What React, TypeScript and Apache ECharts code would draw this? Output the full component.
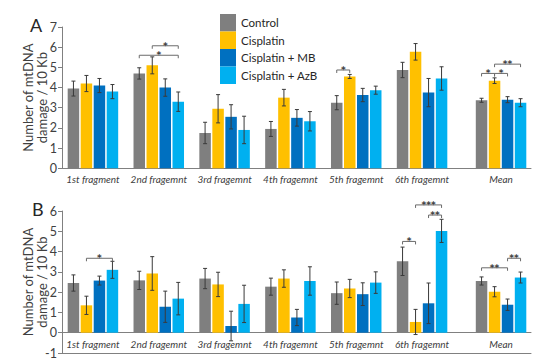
import React, { useEffect, useRef } from "react";
import * as echarts from "echarts";

const categoriesA = ["1st fragment", "2nd fragemnt", "3rd fragemnt", "4th fragemnt", "5th fragemnt", "6th fragemnt", "Mean"];
const categoriesB = ["1st fragment", "2nd fragemnt", "3rd fragemnt", "4th fragemnt", "5th fragemnt", "6th fragemnt", "Mean"];
const groupX = [0, 1, 2, 3, 4, 5, 6.2];
const seriesNames = ["Control", "Cisplatin", "Cisplatin + MB", "Cisplatin + AzB"];
const yTicksA = [0, 1, 2, 3, 4, 5, 6, 7];
const yTicksB = [-1, 0, 1, 2, 3, 4, 5, 6];

// Panel A values and error bars
const controlA = [3.95, 4.7, 1.75, 1.95, 3.25, 4.87, 3.37];
const cisplatinA = [4.2, 5.1, 2.95, 3.5, 4.55, 5.77, 4.34];
const mbA = [4.1, 4.0, 2.55, 2.5, 3.63, 3.75, 3.4];
const azbA = [3.8, 3.3, 1.9, 2.33, 3.87, 4.45, 3.25];
const controlErrA = [0.37, 0.28, 0.53, 0.37, 0.35, 0.38, 0.1];
const cisplatinErrA = [0.4, 0.42, 0.7, 0.41, 0.1, 0.41, 0.14];
const mbErrA = [0.35, 0.43, 0.6, 0.41, 0.33, 0.7, 0.15];
const azbErrA = [0.35, 0.48, 0.68, 0.48, 0.2, 0.58, 0.2];

// Panel B values and error bars
const controlB = [2.45, 2.58, 2.67, 2.27, 1.95, 3.52, 2.55];
const cisplatinB = [1.35, 2.92, 2.38, 2.67, 2.18, 0.53, 2.02];
const mbB = [2.57, 1.28, 0.33, 0.75, 1.9, 1.45, 1.38];
const azbB = [3.1, 1.68, 1.42, 2.55, 2.47, 5.02, 2.72];
const controlErrB = [0.4, 0.45, 0.5, 0.42, 0.55, 0.7, 0.2];
const cisplatinErrB = [0.45, 0.83, 0.6, 0.43, 0.45, 0.62, 0.25];
const mbErrB = [0.22, 0.77, 0.73, 0.4, 0.56, 1.0, 0.28];
const azbErrB = [0.42, 0.8, 0.92, 0.7, 0.53, 0.57, 0.27];

// Significance brackets: [category index, from bar, to bar, height]
const sigA = [[1, 0, 3, 5.6], [1, 1, 3, 6.07], [4, 0, 1, 4.87], [6, 0, 1, 4.7], [6, 1, 2, 4.7], [6, 1, 3, 5.16]];
const sigLabelsA = ["*", "*", "*", "*", "*", "**"];
const sigB = [[0, 1, 3, 3.67], [5, 0, 1, 4.5], [5, 2, 3, 5.8], [5, 1, 3, 6.3], [6, 0, 2, 3.2], [6, 2, 3, 3.67]];
const sigLabelsB = ["*", "*", "**", "***", "**", "**"];

const colors = ["#7F7F7F", "#FFC000", "#0070C0", "#00B0F0"];
const FONT = "Lato";
const BAR_STEP = 13;
const BAR_W = 11.5;
const CAP = 2;
const ERR_COLOR = "#3a3a3a";
const GRID_B_HEIGHT = 142;

function barSeries(name: string, k: number, vals: number[], errs: number[], axis: number) {
  return {
    type: "custom",
    name,
    xAxisIndex: axis === 0 ? 0 : 1,
    yAxisIndex: axis,
    itemStyle: { color: colors[k] },
    clip: false,
    encode: { x: 0, y: 1 },
    data: vals.map((v, i) => [groupX[i], v, errs[i]]),
    renderItem: (_params: any, api: any) => {
      const x = api.value(0);
      const v = api.value(1);
      const e = api.value(2);
      const top = api.coord([x, v]);
      const base = api.coord([x, 0]);
      const cx = top[0] + (k - 1.5) * BAR_STEP;
      const hi = api.coord([x, v + e])[1];
      const lo = api.coord([x, v - e])[1];
      const es = { stroke: ERR_COLOR, lineWidth: 1 };
      return {
        type: "group",
        children: [
          {
            type: "rect",
            shape: { x: cx - BAR_W / 2, y: Math.min(top[1], base[1]), width: BAR_W, height: Math.abs(base[1] - top[1]) },
            style: { fill: colors[k] },
          },
          { type: "line", shape: { x1: cx, y1: hi, x2: cx, y2: lo }, style: es },
          { type: "line", shape: { x1: cx - CAP, y1: hi, x2: cx + CAP, y2: hi }, style: es },
          { type: "line", shape: { x1: cx - CAP, y1: lo, x2: cx + CAP, y2: lo }, style: es },
        ],
      };
    },
  };
}

function sigSeries(sig: number[][], labels: string[], axis: number) {
  return {
    type: "custom",
    xAxisIndex: axis === 0 ? 0 : 1,
    yAxisIndex: axis,
    clip: false,
    silent: true,
    encode: { x: 0, y: 3 },
    data: sig.map((s) => [groupX[s[0]], s[1], s[2], s[3]]),
    renderItem: (params: any, api: any) => {
      const x = api.value(0);
      const a = api.value(1);
      const b = api.value(2);
      const h = api.value(3);
      const p = api.coord([x, h]);
      const x1 = p[0] + (a - 1.5) * BAR_STEP;
      const x2 = p[0] + (b - 1.5) * BAR_STEP;
      return {
        type: "group",
        children: [
          {
            type: "polyline",
            shape: { points: [[x1, p[1] + 3], [x1, p[1]], [x2, p[1]], [x2, p[1] + 3]] },
            style: { stroke: "#6b6b6b", lineWidth: 1, fill: null },
          },
          {
            type: "text",
            x: (x1 + x2) / 2,
            y: p[1],
            style: {
              text: labels[params.dataIndex],
              fontSize: 9,
              lineHeight: 8,
              fontWeight: "bold",
              fontFamily: "DejaVu Sans",
              fill: "#404040",
              align: "center",
              verticalAlign: "middle",
            },
          },
        ],
      };
    },
  };
}

function catFormatter(names: string[]) {
  return (v: number) => {
    for (let i = 0; i < groupX.length; i++) if (Math.abs(groupX[i] - v) < 1e-6) return names[i];
    return "";
  };
}

export default function App() {
  const ref = useRef<HTMLDivElement>(null);
  useEffect(() => {
    document.body.style.margin = "0";
    const chart = echarts.init(ref.current!, null, { renderer: "svg" });
    const lineStyle = { color: "#808080", width: 1 };
    const xBase = {
      type: "value",
      min: -0.47,
      max: 6.655,
      splitLine: { show: false },
      axisTick: { show: false },
    };
    const yBase = {
      type: "value",
      interval: 1,
      name: "Number of mtDNA\ndamage / 10 Kb",
      nameLocation: "middle",
      nameRotate: 90,
      nameGap: 13,
      nameMoveOverlap: false,
      nameTextStyle: { fontSize: 13, fontFamily: FONT, color: "#404040", lineHeight: 14 },
      splitLine: { show: false },
      axisLine: { show: true, onZero: false, lineStyle },
      axisTick: { show: true, length: 4, lineStyle: { color: "#808080" } },
      axisLabel: { fontSize: 12.5, fontFamily: FONT, color: "#404040", margin: 5 },
    };
    const catLabel = (names: string[]) => ({
      show: true,
      customValues: groupX,
      formatter: catFormatter(names),
      fontSize: 10,
      fontStyle: "italic",
      fontFamily: FONT,
      color: "#404040",
      margin: 6,
    });
    const yMinB = yTicksB[0];
    const yMaxB = yTicksB[yTicksB.length - 1];
    chart.setOption({
      animation: false,
      textStyle: { fontFamily: FONT },
      legend: {
        data: seriesNames,
        orient: "vertical",
        left: 215,
        top: 9,
        itemWidth: 16,
        itemHeight: 17.5,
        itemGap: 0,
        icon: "rect",
        selectedMode: false,
        textStyle: { fontSize: 11.5, fontFamily: FONT, color: "#262626" },
      },
      grid: [
        { left: 62, top: 27, width: 469, height: 141.3 },
        { left: 62, top: 211, width: 469, height: GRID_B_HEIGHT },
      ],
      xAxis: [
        { ...xBase, gridIndex: 0, axisLine: { show: true, onZero: false, lineStyle }, axisLabel: catLabel(categoriesA) },
        {
          ...xBase,
          gridIndex: 1,
          position: "bottom",
          offset: (yMinB * GRID_B_HEIGHT) / (yMaxB - yMinB),
          axisLine: { show: true, onZero: false, lineStyle },
          axisLabel: catLabel(categoriesB),
        },
        { ...xBase, gridIndex: 1, position: "bottom", axisLine: { show: true, onZero: false, lineStyle }, axisLabel: { show: false } },
      ],
      yAxis: [
        { ...yBase, gridIndex: 0, min: yTicksA[0], max: yTicksA[yTicksA.length - 1] },
        { ...yBase, gridIndex: 1, min: yMinB, max: yMaxB },
      ],
      series: [
        barSeries(seriesNames[0], 0, controlA, controlErrA, 0),
        barSeries(seriesNames[1], 1, cisplatinA, cisplatinErrA, 0),
        barSeries(seriesNames[2], 2, mbA, mbErrA, 0),
        barSeries(seriesNames[3], 3, azbA, azbErrA, 0),
        barSeries(seriesNames[0], 0, controlB, controlErrB, 1),
        barSeries(seriesNames[1], 1, cisplatinB, cisplatinErrB, 1),
        barSeries(seriesNames[2], 2, mbB, mbErrB, 1),
        barSeries(seriesNames[3], 3, azbB, azbErrB, 1),
        sigSeries(sigA, sigLabelsA, 0),
        sigSeries(sigB, sigLabelsB, 1),
      ],
      graphic: [
        { type: "text", left: 30, top: 16, style: { text: "A", fontSize: 18, fontFamily: FONT, fill: "#262626" } },
        { type: "text", left: 32, top: 200, style: { text: "B", fontSize: 18, fontFamily: FONT, fill: "#262626" } },
      ],
    });
    return () => chart.dispose();
  }, []);
  return <div ref={ref} style={{ width: 550, height: 363 }} />;
}
